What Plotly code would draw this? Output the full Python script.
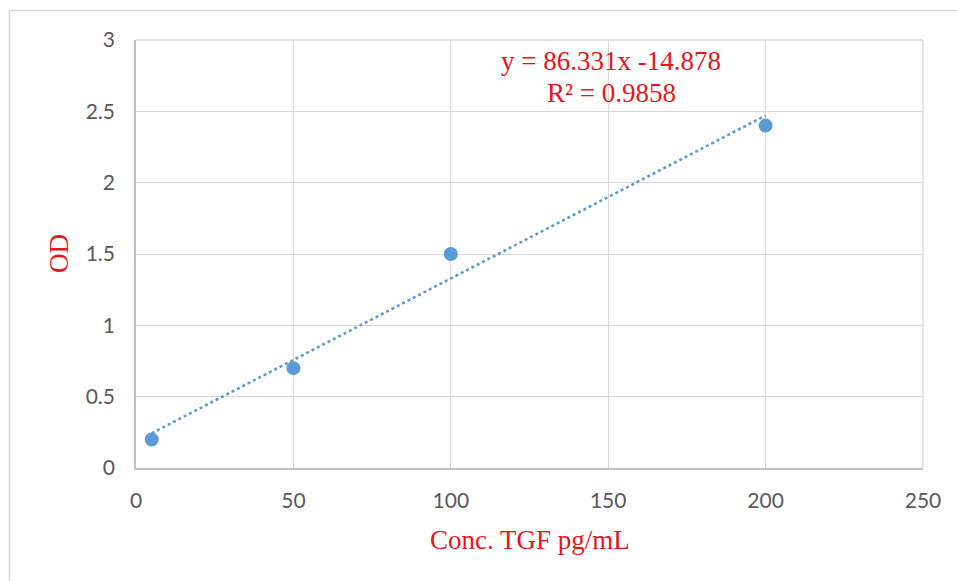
import numpy as np
import plotly.graph_objects as go

conc = [5, 50, 100, 200]
od = [0.2, 0.7, 1.5, 2.4]
x_ticks = [0, 50, 100, 150, 200, 250]
y_ticks = [0, 0.5, 1, 1.5, 2, 2.5, 3]
eq_text = "y = 86.331x -14.878"
r2_text = "R² = 0.9858"

W, H = 957, 581
L, R, T, B = 136, 34, 40, 113
pw, ph = W - L - R, H - T - B

slope, intercept = np.polyfit(conc, od, 1)
tx = np.array([min(conc), max(conc)])
ty = slope * tx + intercept

blue = "#5B9BD5"
red = "#E8141B"
serif = "Liberation Serif, Times New Roman, serif"

fig = go.Figure()
fig.add_trace(go.Scatter(x=tx, y=ty, mode="lines",
                         line=dict(color=blue, width=2.6, dash="dot"),
                         showlegend=False, hoverinfo="skip"))
fig.add_trace(go.Scatter(x=conc, y=od, mode="markers",
                         marker=dict(color=blue, size=14),
                         showlegend=False))

def px_x(p):
    return (p - L) / pw

def px_y(p):
    return (H - B - p) / ph

fig.update_layout(
    width=W, height=H,
    margin=dict(l=L, r=R, t=T, b=B),
    paper_bgcolor="white", plot_bgcolor="white",
    xaxis=dict(range=[0, 250], tickvals=x_ticks, showgrid=True,
               gridcolor="#d9d9d9", gridwidth=1.3, zeroline=False,
               showline=True, linecolor="#bfbfbf", linewidth=1.6,
               ticks="", ticklabelstandoff=13,
               tickfont=dict(family="Lato, Open Sans, sans-serif", size=21, color="#595959")),
    yaxis=dict(range=[0, 3], tickvals=y_ticks, showgrid=True,
               gridcolor="#d9d9d9", gridwidth=1.3, zeroline=False,
               showline=True, linecolor="#bfbfbf", linewidth=1.6,
               ticks="", ticklabelstandoff=15,
               tickfont=dict(family="Lato, Open Sans, sans-serif", size=21, color="#595959")),
    shapes=[
        dict(type="rect", xref="paper", yref="paper",
             x0=px_x(9.5), x1=px_x(990), y0=px_y(620), y1=px_y(10.5),
             line=dict(color="#d9d9d9", width=1.5), fillcolor="rgba(0,0,0,0)", layer="below"),
        dict(type="line", xref="paper", yref="paper",
             x0=1, x1=1, y0=0, y1=1, line=dict(color="#d9d9d9", width=1.3)),
        dict(type="line", xref="paper", yref="paper",
             x0=0, x1=1, y0=1, y1=1, line=dict(color="#d9d9d9", width=1.3)),
    ],
    annotations=[
        dict(text=eq_text, x=151, y=2.85, xref="x", yref="y", showarrow=False,
             xanchor="center", yanchor="middle",
             font=dict(family=serif, size=27, color=red)),
        dict(text=r2_text, x=151, y=2.63, xref="x", yref="y", showarrow=False,
             xanchor="center", yanchor="middle",
             font=dict(family=serif, size=27, color=red)),
        dict(text="OD", x=px_x(59), y=px_y(254), xref="paper", yref="paper",
             showarrow=False, textangle=-90, xanchor="center", yanchor="middle",
             font=dict(family=serif, size=27, color=red)),
        dict(text="Conc. TGF pg/mL", x=px_x(530), y=px_y(540), xref="paper", yref="paper",
             showarrow=False, xanchor="center", yanchor="middle",
             font=dict(family=serif, size=27, color=red)),
    ],
)

fig.write_html("out.html")
